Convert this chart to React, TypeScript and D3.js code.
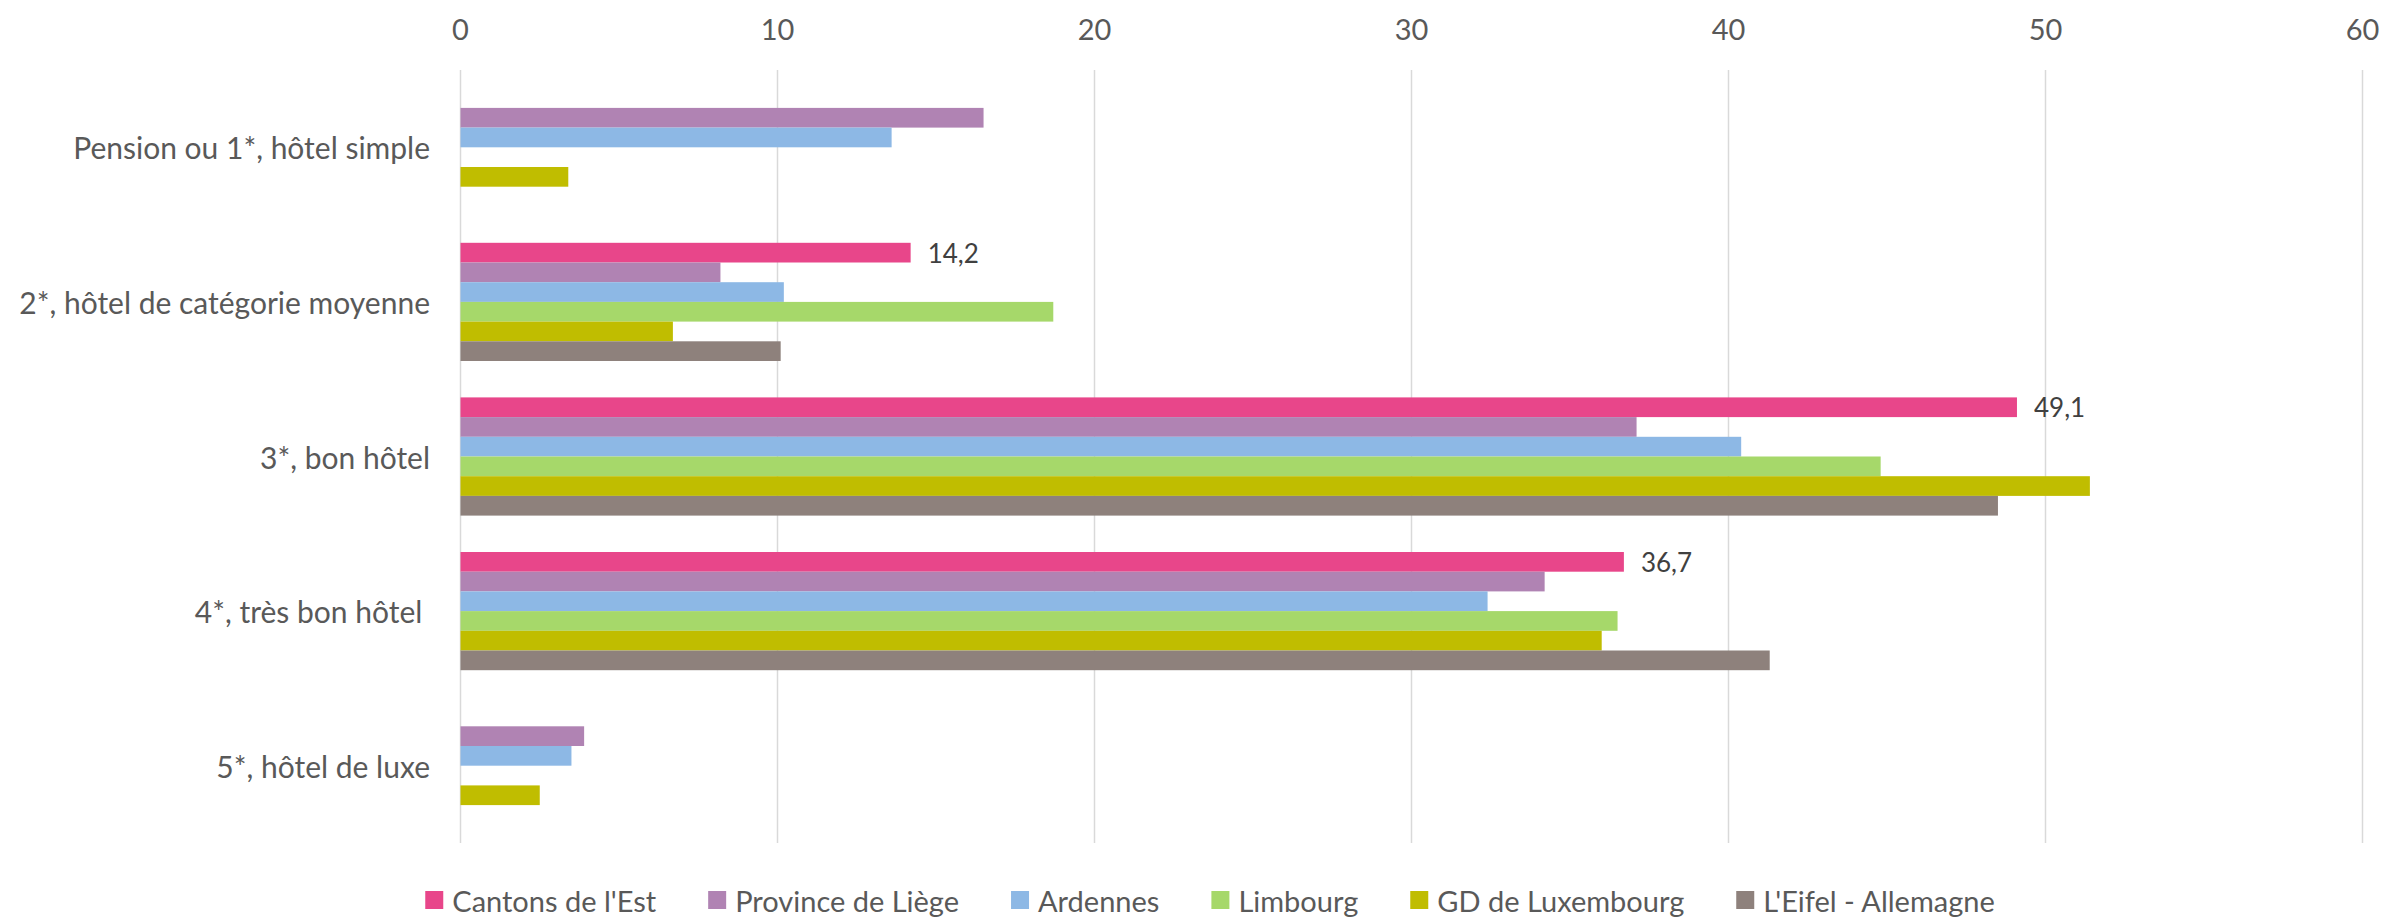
import React, { useEffect, useRef } from "react";
import * as d3 from "d3";

const categories = [
  "Pension ou 1*, hôtel simple",
  "2*, hôtel de catégorie moyenne",
  "3*, bon hôtel",
  "4*, très bon hôtel ",
  "5*, hôtel de luxe",
];

const seriesNames = [
  "Cantons de l'Est",
  "Province de Liège",
  "Ardennes",
  "Limbourg",
  "GD de Luxembourg",
  "L'Eifel - Allemagne",
];

const seriesColors = ["#E8468A", "#B083B3", "#8DB8E5", "#A6D86A", "#C0BD00", "#8E817C"];

// values per series, in category order (null = no bar)
const cantonsEst = [null, 14.2, 49.1, 36.7, null];
const provinceLiege = [16.5, 8.2, 37.1, 34.2, 3.9];
const ardennes = [13.6, 10.2, 40.4, 32.4, 3.5];
const limbourg = [null, 18.7, 44.8, 36.5, null];
const gdLuxembourg = [3.4, 6.7, 51.4, 36.0, 2.5];
const eifel = [null, 10.1, 48.5, 41.3, null];

const seriesValues = [cantonsEst, provinceLiege, ardennes, limbourg, gdLuxembourg, eifel];
const labelledSeries = [true, false, false, false, false, false];

const xTicks = [0, 10, 20, 30, 40, 50, 60];

const W = 2384;
const H = 917;
const FONT = "Lato, 'Open Sans', sans-serif";
const TEXT = "#595959";

export default function App() {
  const ref = useRef<SVGSVGElement>(null);

  useEffect(() => {
    const svg = d3.select(ref.current);
    svg.selectAll("*").remove();

    const x = d3.scaleLinear().domain([0, 60]).range([460.5, 2362.5]);
    const y = d3.scaleBand<string>().domain(categories).range([70, 843]).padding(0);
    const barH = 19.7;
    const inner = d3
      .scaleBand<string>()
      .domain(seriesNames)
      .range([-(barH * seriesNames.length) / 2, (barH * seriesNames.length) / 2])
      .padding(0);

    // gridlines
    svg
      .append("g")
      .selectAll("line")
      .data(xTicks)
      .join("line")
      .attr("x1", (d) => x(d))
      .attr("x2", (d) => x(d))
      .attr("y1", 70)
      .attr("y2", 843)
      .attr("stroke", "#D9D9D9")
      .attr("stroke-width", 1.5);

    // tick labels
    svg
      .append("g")
      .selectAll("text")
      .data(xTicks)
      .join("text")
      .attr("x", (d) => x(d))
      .attr("y", 28)
      .attr("text-anchor", "middle")
      .attr("dominant-baseline", "central")
      .attr("font-family", FONT)
      .attr("font-size", 29)
      .attr("fill", TEXT)
      .text((d) => String(d));

    // category labels
    svg
      .append("g")
      .selectAll("text")
      .data(categories)
      .join("text")
      .attr("x", 430)
      .attr("y", (d) => (y(d) as number) + y.bandwidth() / 2)
      .attr("text-anchor", "end")
      .attr("dominant-baseline", "central")
      .attr("font-family", FONT)
      .attr("font-size", 30)
      .attr("fill", TEXT)
      .style("white-space", "pre")
      .text((d) => d);

    // bars
    seriesNames.forEach((s, si) => {
      const vals = seriesValues[si];
      const data = categories
        .map((c, ci) => ({ c, v: vals[ci] }))
        .filter((d) => d.v !== null) as { c: string; v: number }[];
      const g = svg.append("g");
      g.selectAll("rect")
        .data(data)
        .join("rect")
        .attr("x", x(0))
        .attr("y", (d) => (y(d.c) as number) + y.bandwidth() / 2 + (inner(s) as number))
        .attr("width", (d) => x(d.v) - x(0))
        .attr("height", inner.bandwidth())
        .attr("fill", seriesColors[si]);
      if (labelledSeries[si]) {
        g.selectAll("text")
          .data(data)
          .join("text")
          .attr("x", (d) => x(d.v) + 17)
          .attr("y", (d) => (y(d.c) as number) + y.bandwidth() / 2 + (inner(s) as number) + inner.bandwidth() / 2)
          .attr("dominant-baseline", "central")
          .attr("font-family", FONT)
          .attr("font-size", 26)
          .attr("fill", "#404040")
          .text((d) => d.v.toFixed(1).replace(".", ","));
      }
    });

    // legend
    const lg = svg.append("g");
    const sq = 18;
    const gapText = 9;
    const gapItem = 52;
    const items = lg
      .selectAll("g")
      .data(seriesNames)
      .join("g");
    items
      .append("rect")
      .attr("width", sq)
      .attr("height", sq)
      .attr("y", 900 - sq / 2)
      .attr("fill", (_d, i) => seriesColors[i]);
    items
      .append("text")
      .attr("x", sq + gapText)
      .attr("y", 900)
      .attr("dominant-baseline", "central")
      .attr("font-family", FONT)
      .attr("font-size", 29)
      .attr("fill", TEXT)
      .text((d) => d);
    const widths: number[] = [];
    items.select("text").each(function () {
      widths.push((this as SVGTextElement).getComputedTextLength());
    });
    const itemW = widths.map((w) => sq + gapText + w);
    const total = d3.sum(itemW) + gapItem * (itemW.length - 1);
    let cx = 1210 - total / 2;
    items.attr("transform", (_d, i) => {
      const t = `translate(${cx},0)`;
      cx += itemW[i] + gapItem;
      return t;
    });
  }, []);

  return (
    <svg
      ref={ref}
      width={W}
      height={H}
      style={{ position: "absolute", left: 0, top: 0, background: "#fff" }}
    />
  );
}
